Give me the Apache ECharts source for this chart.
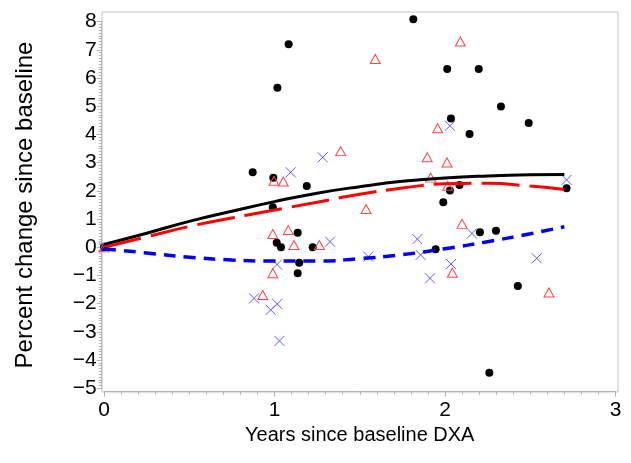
<!DOCTYPE html>
<html>
<head>
<meta charset="utf-8">
<script src="https://cdn.jsdelivr.net/npm/echarts@6/dist/echarts.min.js"></script>
<style>
  html, body { margin: 0; padding: 0; background: #fff; }
  #chart { width: 631px; height: 463px; }
</style>
</head>
<body>
<div id="chart"></div>
<script>
// ticks
var xTicks = [0, 1, 2, 3];
var yTicks = [-5, -4, -3, -2, -1, 0, 1, 2, 3, 4, 5, 6, 7, 8];

// observed points, [years, percent change]
var circlePts = [
    [0, 0], [0.872, 2.66], [0.993, 2.47], [1.017, 5.66], [1.083, 7.20], [1.814, 8.09],
    [2.013, 6.32], [2.035, 4.57], [2.144, 4.02], [1.189, 2.17], [2.029, 2.01], [2.085, 2.21],
    [2.198, 6.32], [2.328, 4.99], [2.491, 4.41], [2.713, 2.09], [0.99, 1.42], [1.013, 0.16],
    [1.136, 0.52], [1.038, 0.0], [1.224, 0.0], [1.145, -0.55], [1.136, -0.92], [1.99, 1.60],
    [1.945, -0.07], [2.205, 0.53], [2.299, 0.59], [2.427, -1.37], [2.26, -4.45]
];
var trianglePts = [
    [0, 0], [0.997, 2.36], [1.591, 6.68], [2.09, 7.30], [1.388, 3.41], [1.957, 4.22],
    [1.896, 3.19], [2.012, 3.01], [1.052, 2.33], [1.916, 2.47], [2.016, 2.18], [0.99, 0.47],
    [0.99, -0.92], [0.931, -1.69], [1.537, 1.36], [1.081, 0.61], [1.114, 0.08], [1.263, 0.08],
    [2.10, 0.83], [2.043, -0.90], [2.61, -1.60]
];
var crossPts = [
    [0, 0], [1.283, 3.19], [1.095, 2.66], [2.029, 4.31], [2.713, 2.39], [0.88, -1.81],
    [0.978, -2.22], [1.016, -2.01], [1.029, -3.32], [1.015, -0.61], [1.326, 0.2], [1.55, -0.33],
    [1.838, 0.29], [1.857, -0.27], [1.912, -1.10], [2.035, -0.59], [2.158, 0.49], [2.538, -0.39]
];

// fitted curves, read at these x values
var curveX = [0, 0.25, 0.5, 0.75, 1.0, 1.25, 1.5, 1.75, 2.0, 2.25, 2.5, 2.7];
var blackCurve = [0.1, 0.5, 0.92, 1.28, 1.62, 1.92, 2.15, 2.34, 2.46, 2.53, 2.57, 2.58];
var redCurve = [0, 0.37, 0.74, 1.04, 1.32, 1.6, 1.88, 2.1, 2.25, 2.27, 2.17, 2.05];
var blueCurve = [-0.05, -0.2, -0.35, -0.45, -0.49, -0.49, -0.4, -0.26, -0.05, 0.2, 0.48, 0.73];

function pairs(ys) {
    var out = [];
    for (var i = 0; i < curveX.length; i++) {
        out.push([curveX[i], ys[i]]);
    }
    return out;
}

var font = "'Liberation Sans', Arial, Helvetica, sans-serif";
var axisGrey = '#b4b4b4';

var chart = echarts.init(document.getElementById('chart'), null, {renderer: 'canvas'});

var option = {
    animation: false,
    backgroundColor: '#fff',
    grid: [
        {left: 102, top: 12, width: 516, height: 380, show: true, borderColor: '#c4c4c4', borderWidth: 1, backgroundColor: 'transparent'},
        {left: 104, top: 21.7, width: 511.5, height: 366.6}
    ],
    xAxis: [
        {
            gridIndex: 1,
            type: 'value',
            min: xTicks[0],
            max: xTicks[xTicks.length - 1],
            interval: 1,
            offset: 3.4,
            name: 'Years since baseline DXA',
            nameLocation: 'middle',
            nameGap: 31,
            nameTextStyle: {fontFamily: font, fontSize: 20, color: '#000'},
            axisLine: {show: true, onZero: false, lineStyle: {color: axisGrey, width: 1}},
            axisTick: {show: true, length: 5, lineStyle: {color: axisGrey}},
            minorTick: {show: true, splitNumber: 10, length: 3, lineStyle: {color: axisGrey}},
            axisLabel: {margin: 8, fontFamily: font, fontSize: 21, color: '#000'},
            splitLine: {show: false}
        },
        {gridIndex: 0, type: 'value', min: 0, max: 1, show: false}
    ],
    yAxis: [
        {
            gridIndex: 1,
            type: 'value',
            min: yTicks[0],
            max: yTicks[yTicks.length - 1],
            interval: 1,
            offset: 2.3,
            name: 'Percent change since baseline',
            nameLocation: 'middle',
            nameRotate: 90,
            nameGap: 64,
            nameTextStyle: {fontFamily: font, fontSize: 24, color: '#000'},
            axisLine: {show: true, onZero: false, lineStyle: {color: axisGrey, width: 1}},
            axisTick: {show: true, length: 5, lineStyle: {color: axisGrey}},
            minorTick: {show: true, splitNumber: 10, length: 3, lineStyle: {color: axisGrey}},
            axisLabel: {
                margin: 5,
                fontFamily: font,
                fontSize: 21,
                color: '#000',
                formatter: function (v) {
                    return String(v).replace('-', '\u2212');
                }
            },
            splitLine: {show: false}
        },
        {gridIndex: 0, type: 'value', min: 0, max: 1, show: false}
    ],
    series: [
        {
            type: 'scatter',
            data: circlePts,
            clip: false,
            symbol: 'circle',
            symbolSize: 8,
            itemStyle: {color: '#000', opacity: 1},
            emphasis: {disabled: true}
        },
        {
            type: 'scatter',
            data: trianglePts,
            clip: false,
            symbol: 'triangle',
            symbolSize: [10, 9],
            itemStyle: {color: 'transparent', borderColor: '#ff4545', borderWidth: 1, opacity: 1},
            emphasis: {disabled: true}
        },
        {
            type: 'scatter',
            data: crossPts,
            clip: false,
            symbol: 'path://M0,0L10,10M10,0L0,10',
            symbolSize: 10,
            itemStyle: {color: 'none', borderColor: '#5a5aff', borderWidth: 1, opacity: 1},
            emphasis: {disabled: true}
        },
        {
            type: 'line',
            data: pairs(blackCurve),
            smooth: true,
            showSymbol: false,
            lineStyle: {color: '#000', width: 3},
            emphasis: {disabled: true}
        },
        {
            type: 'line',
            data: pairs(redCurve),
            smooth: true,
            showSymbol: false,
            lineStyle: {color: '#ff0000', width: 3, type: [38, 10]},
            emphasis: {disabled: true}
        },
        {
            type: 'line',
            data: pairs(blueCurve),
            smooth: true,
            showSymbol: false,
            lineStyle: {color: '#0000ff', width: 3.5, type: [12, 8]},
            emphasis: {disabled: true}
        }
    ]
};
chart.setOption(option);
</script>
</body>
</html>
